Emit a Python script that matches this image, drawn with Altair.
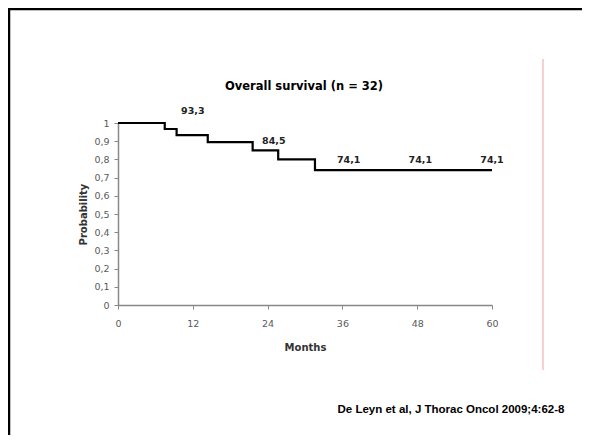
import altair as alt
import pandas as pd

# Kaplan-Meier step data (months, survival probability)
months = [0, 7.5, 9.4, 14.4, 21.6, 25.7, 31.6, 60]
survival = [1.0, 0.967, 0.933, 0.895, 0.85, 0.80, 0.741, 0.741]

# annotation labels
label_x = [12, 25, 37, 48.5, 60]
label_y = [1.064, 0.90, 0.795, 0.795, 0.795]
label_text = ["93,3", "84,5", "74,1", "74,1", "74,1"]

x_ticks = [0, 12, 24, 36, 48, 60]
y_ticks = [0, 0.1, 0.2, 0.3, 0.4, 0.5, 0.6, 0.7, 0.8, 0.9, 1]

FONT = "DejaVu Sans"
CITE_FONT = "Liberation Sans"

km = pd.DataFrame({"month": months, "surv": survival})
labels = pd.DataFrame({"month": label_x, "surv": label_y, "txt": label_text})
one = pd.DataFrame({"a": [0]})

xscale = alt.Scale(domain=[0, 60], nice=False)
yscale = alt.Scale(domain=[0, 1], nice=False)

xaxis = alt.Axis(values=x_ticks, title="Months", grid=False, tickSize=4,
                 labelPadding=9, titlePadding=15, labelFontSize=9.5,
                 labelFlush=False,
                 labelColor="#5a5a5a", domainColor="#888888", tickColor="#888888",
                 domainWidth=1.5, titleFontSize=10, titleFontWeight="bold",
                 titleColor="#333333", labelFont=FONT, titleFont=FONT)
yaxis = alt.Axis(values=y_ticks, title="Probability", grid=False, tickSize=4,
                 labelPadding=5, titlePadding=5, labelFontSize=9.5,
                 labelFlush=False,
                 labelColor="#5a5a5a", domainColor="#888888", tickColor="#888888",
                 domainWidth=1.5, titleFontSize=10, titleFontWeight="bold",
                 titleColor="#333333", labelFont=FONT, titleFont=FONT,
                 labelExpr="replace(toString(datum.value), '.', ',')")

line = alt.Chart(km).mark_line(interpolate="step-after", color="black",
                               strokeWidth=2.2).encode(
    x=alt.X("month:Q", scale=xscale, axis=xaxis),
    y=alt.Y("surv:Q", scale=yscale, axis=yaxis),
)

text = alt.Chart(labels).mark_text(font=FONT, fontSize=9.5, fontWeight="bold",
                                   color="#222222", baseline="middle", clip=False).encode(
    x=alt.X("month:Q", scale=xscale, axis=xaxis),
    y=alt.Y("surv:Q", scale=yscale, axis=yaxis),
    text="txt:N",
)

# slide frame decorations (pixel positions relative to plot area)
frame_top = alt.Chart(one).mark_rule(color="black", strokeWidth=2.5, clip=False).encode(
    x=alt.value(-110), x2=alt.value(480), y=alt.value(-114))
frame_left = alt.Chart(one).mark_rule(color="black", strokeWidth=2.5, clip=False).encode(
    x=alt.value(-109), y=alt.value(-115), y2=alt.value(330))
red_line = alt.Chart(one).mark_rule(color="#f4c0c0", strokeWidth=1.5, clip=False).encode(
    x=alt.value(425), y=alt.value(-64), y2=alt.value(247))
title = alt.Chart(one).mark_text(font=FONT, fontSize=11.5, fontWeight="bold",
                                 color="black", align="center", baseline="middle").encode(
    x=alt.value(186), y=alt.value(-36),
    text=alt.value("Overall survival (n = 32)"))
citation = alt.Chart(one).mark_text(font=CITE_FONT, fontSize=11.5, fontWeight="bold",
                                    color="black", align="center", baseline="middle").encode(
    x=alt.value(333), y=alt.value(287),
    text=alt.value("De Leyn et al, J Thorac Oncol 2009;4:62-8"))

chart = alt.layer(frame_top, frame_left, red_line, line, text, title, citation).properties(
    width=374, height=182,
    background="white",
    padding={"left": 110, "top": 115, "right": 90, "bottom": 130},
    autosize=alt.AutoSizeParams(type="none"),
).configure_view(stroke=None)

chart.save("out.html", embed_options={"renderer": "svg", "actions": False})
